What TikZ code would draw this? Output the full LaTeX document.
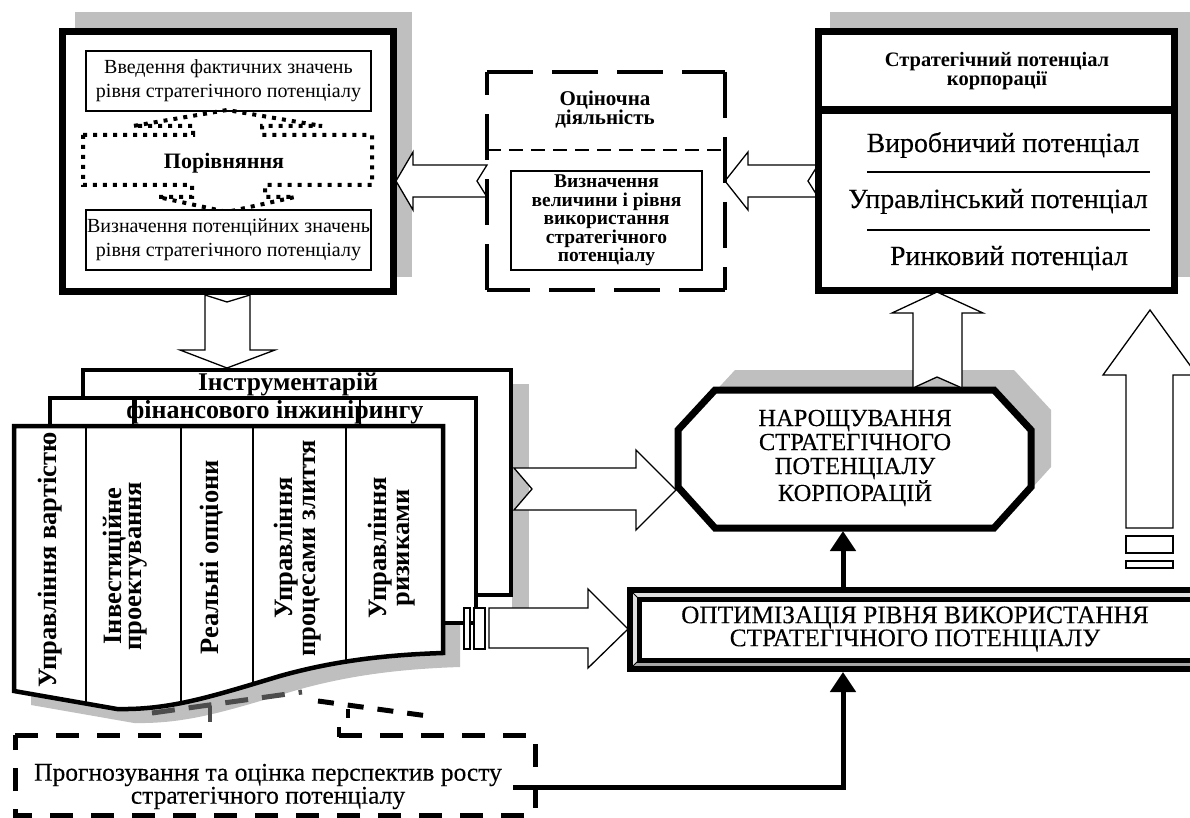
\documentclass[tikz,border=0pt]{standalone}
\usepackage{fontspec}
\setmainfont{Liberation Serif}
\newfontfamily\thickserif{Liberation Serif}[FakeBold=0.25]
\usetikzlibrary{arrows.meta}
\newcommand\myfs[2]{\fontsize{#1}{#2}\selectfont}
\begin{document}
\begin{tikzpicture}[x=1pt,y=-1pt,
  shade/.style={fill=black!25,draw=none},
  heavy/.style={draw=black,line width=7pt,fill=white,line join=miter,outer sep=0pt,inner sep=0pt},
  page/.style={draw=black,line width=4.5pt,fill=white,line join=miter},
  thinbox/.style={draw=black,line width=1.3pt,fill=white,inner sep=0pt,outer sep=0pt,align=center},
  blockarrow/.style={draw=black,line width=1.3pt,fill=white,line join=miter},
  thinline/.style={draw=black,line width=1.3pt},
  dotline/.style={draw=black,line width=4pt,dash pattern=on 4pt off 6pt},
  bigdash/.style={draw=black,line width=4.5pt,dash pattern=on 46pt off 19pt},
  progdash/.style={draw=black,line width=5pt,dash pattern=on 23pt off 18pt},
  conn/.style={draw=black,line width=5pt,line join=miter,-{Triangle[width=25pt,length=20pt]}},
  txt/.style={inner sep=0pt,outer sep=0pt,align=center},
  vtxt/.style={inner sep=0pt,align=center,rotate=90},
]
\useasboundingbox (0,0) rectangle (1190,818);
\clip (0,0) rectangle (1190,818);

% ---------- shadows ----------
\fill[shade] (75,12) rectangle (412,277);
\fill[shade] (830,12) rectangle (1200,277);
\fill[shade,shift={(20,-20)}] (715,390) -- (994,390) -- (1031,430) -- (1031,487) -- (994,528) -- (715,528) -- (678,487) -- (678,430) -- cycle;
\fill[shade] (512,384) rectangle (529,609);
\fill[shade,shift={(17,14)}] (14,426) -- (443,426) -- (443,653) .. controls (380,655) and (330,662) .. (280,676) .. controls (210,697) and (170,710) .. (117,709) -- (14,691) -- cycle;

% ---------- callout pieces under the stack ----------
\draw[line width=5pt,black!70,dash pattern=on 23pt off 14pt] (152,713) -- (302,692);
\draw[line width=5pt,black,dash pattern=on 16pt off 14pt] (318,701) -- (428,716);
\draw[line width=4pt,black!70] (210,706) -- (210,722);
\draw[line width=4pt] (348,709) -- (348,718);
\draw[line width=4pt] (339,727) -- (339,737);

% ---------- stack of pages ----------
\draw[page] (83,370) rectangle (511,595);
\draw[page] (50,398) rectangle (476,623);
\draw[thinline] (133,398) -- (133,426);
\draw[thinline] (360,398) -- (360,426);
\fill[white] (14,426) -- (443,426) -- (443,653) .. controls (380,655) and (330,662) .. (280,676) .. controls (210,697) and (170,710) .. (117,709) -- (14,691) -- cycle;
\begin{scope}
\clip (14,426) -- (443,426) -- (443,653) .. controls (380,655) and (330,662) .. (280,676) .. controls (210,697) and (170,710) .. (117,709) -- (14,691) -- cycle;
\draw[thinline] (86,426) -- (86,730);
\draw[thinline] (181,426) -- (181,730);
\draw[thinline] (253,426) -- (253,730);
\draw[thinline] (346,426) -- (346,730);
\end{scope}
\draw[page,fill=none] (14,426) -- (443,426) -- (443,653) .. controls (380,655) and (330,662) .. (280,676) .. controls (210,697) and (170,710) .. (117,709) -- (14,691) -- cycle;

\node[txt,anchor=base,font=\myfs{25.5}{26}\bfseries] (tool1) at (288,390) {Інструментарій};
\node[txt,anchor=base,font=\myfs{26}{26}\bfseries] (tool2) at (275,418) {фінансового інжинірингу};
\node[vtxt,font=\myfs{26.5}{21}\bfseries] (c1) at (50,560) {Управління вартістю};
\node[vtxt,font=\myfs{26.5}{20}\bfseries] (c2) at (125,566) {Інвестиційне\\проектування};
\node[vtxt,font=\myfs{26.5}{21}\bfseries] (c3) at (212,557) {Реальні опціони};
\node[vtxt,font=\myfs{26.5}{23}\bfseries] (c4) at (298,548) {Управління\\процесами злиття};
\node[vtxt,font=\myfs{26.5}{23}\bfseries] (c5) at (392,548) {Управління\\ризиками};

\draw[blockarrow] (464,608) rectangle (470,649);
\draw[blockarrow] (474,608) rectangle (485,649);

% ---------- arrow box3 -> box2 ----------
\draw[blockarrow] (818,165) -- (748,165) -- (748,152) -- (725,181) -- (748,210) -- (748,197) -- (818,197) -- (808,181) -- cycle;

% ---------- box 3 ----------
\node[heavy,minimum width=356pt,minimum height=258pt] (box3) at (996,161) {};
\draw[line width=8pt] (box3.west |- 0,110) -- (box3.east |- 0,110);
\node[txt,font=\myfs{20.5}{18}\bfseries] (sptitle) at (997,71) {Стратегічний потенціал\\корпорації};
\node[txt,anchor=base,font=\thickserif\myfs{27.8}{28}] (prod) at (1003,152) {Виробничий потенціал};
\draw[thinline] (867,172) -- (1150,172);
\node[txt,anchor=base,font=\thickserif\myfs{27.8}{28}] (mgmt) at (998,208) {Управлінський потенціал};
\draw[thinline] (867,230) -- (1150,230);
\node[txt,anchor=base,font=\thickserif\myfs{27.8}{28}] (mkt) at (1009,265) {Ринковий потенціал};

% ---------- box 1 ----------
\node[heavy,minimum width=331pt,minimum height=259pt] (box1) at (227.5,161.5) {};
\node[thinbox,minimum width=285pt,minimum height=60pt,font=\myfs{20}{24}] (fact) at (228.5,81) {Введення фактичних значень\\рівня стратегічного потенціалу};
\draw[dotline] (83,135) -- (193,135) -- (193,126) -- (133,126) -- (227,110) -- (322,126) -- (262,126) -- (262,135) -- (372,135) -- (372,185) -- (265,185) -- (265,197) -- (295,197) -- (227,212) -- (158,197) -- (192,197) -- (192,185) -- (83,185) -- cycle;
\node[txt,font=\myfs{22}{24}\bfseries] (compare) at (224,163) {Порівняння};
\node[thinbox,minimum width=285pt,minimum height=60pt,font=\myfs{20}{24}] (pot) at (228.5,240) {Визначення потенційних значень\\рівня стратегічного потенціалу};

% ---------- arrow box2 -> box1 ----------
\draw[blockarrow] (487,165) -- (413,165) -- (413,152) -- (396,181) -- (413,210) -- (413,197) -- (487,197) -- (477,181) -- cycle;

% ---------- box 2 ----------
\node[txt,minimum width=238pt,minimum height=218pt] (box2) at (606,181) {};
\draw[bigdash] (box2.north west) -- (box2.north east);
\draw[bigdash] (box2.north east) -- (box2.south east);
\draw[bigdash] (box2.south east) -- (box2.south west);
\draw[bigdash] (box2.south west) -- (box2.north west);
\draw[line width=1.5pt,dash pattern=on 14pt off 8pt] (box2.west |- 0,150) -- (box2.east |- 0,150);
\node[txt,font=\myfs{21}{19}\bfseries] (eval) at (605,110) {Оціночна\\діяльність};
\node[thinbox,minimum width=191pt,minimum height=99pt,font=\myfs{19.5}{18.5}\bfseries] (measure) at (606.5,220.5) {Визначення\\величини і рівня\\використання\\стратегічного\\потенціалу};

% ---------- arrow box1 -> stack ----------
\draw[blockarrow] (205,295) -- (227,302) -- (250,295) -- (250,350) -- (275,350) -- (227,368) -- (180,350) -- (205,350) -- cycle;

% ---------- arrows from the stack ----------
\draw[blockarrow] (514,468) -- (636,468) -- (636,450) -- (676,490) -- (636,530) -- (636,510) -- (514,510) -- (532,489) -- cycle;
\draw[blockarrow] (489,608) -- (588,608) -- (588,589) -- (628,629) -- (588,668) -- (588,648) -- (489,648) -- cycle;

% ---------- octagon ----------
\draw[heavy] (715,390) -- (994,390) -- (1031,430) -- (1031,487) -- (994,528) -- (715,528) -- (678,487) -- (678,430) -- cycle;
\node[txt,font=\thickserif\myfs{24.5}{24}] (grow) at (855,458) {НАРОЩУВАННЯ\\СТРАТЕГІЧНОГО\\ПОТЕНЦІАЛУ\\КОРПОРАЦІЙ};

% ---------- arrow octagon -> box3 ----------
\draw[blockarrow] (913,388) -- (937,377) -- (962,388) -- (962,313) -- (983,313) -- (937,292) -- (892,313) -- (913,313) -- cycle;

% ---------- big arrow on the right ----------
\draw[blockarrow] (1126,528) -- (1126,375) -- (1103,375) -- (1150,310) -- (1197,375) -- (1173,375) -- (1173,528) -- cycle;
\draw[blockarrow] (1126,536) rectangle (1173,553);
\draw[blockarrow] (1126,561) rectangle (1173,568);

% ---------- optimisation box ----------
\fill[black!35] (630,590) rectangle (1200,669);
\fill[black!12] (630,590) -- (1200,590) -- (1200,599) -- (639,599) -- (639,660) -- (630,669) -- cycle;
\draw[line width=6pt,line join=miter] (630,590) rectangle (1200,669);
\draw[line width=5pt,fill=white,line join=miter] (639,599) rectangle (1200,660);
\draw[line width=1pt] (630,590) -- (639,599) (630,669) -- (639,660);
\node[txt,font=\thickserif\myfs{25.3}{23}] (opt) at (915,629) {ОПТИМІЗАЦІЯ РІВНЯ ВИКОРИСТАННЯ\\СТРАТЕГІЧНОГО ПОТЕНЦІАЛУ};

% ---------- forecast box ----------
\node[txt,minimum width=520pt,minimum height=80pt] (progbox) at (275,775) {};
\draw[progdash] (progbox.north west) -- (205,735);
\draw[progdash] (339,735) -- (progbox.north east) -- (progbox.south east) -- (progbox.south west) -- (progbox.north west);
\node[txt,font=\thickserif\myfs{25.5}{23}] (prog) at (268,786.5) {Прогнозування та оцінка перспектив росту\\стратегічного потенціалу};

% ---------- thick connectors ----------
\coordinate (optN) at (843,587);
\coordinate (growS) at (843,531);
\coordinate (optS) at (843,672);
\coordinate (progE) at (513,787);
\draw[conn] (optN) -- (growS);
\draw[conn] (progE) -- (progE -| optS) -- (optS);
\end{tikzpicture}
\end{document}
